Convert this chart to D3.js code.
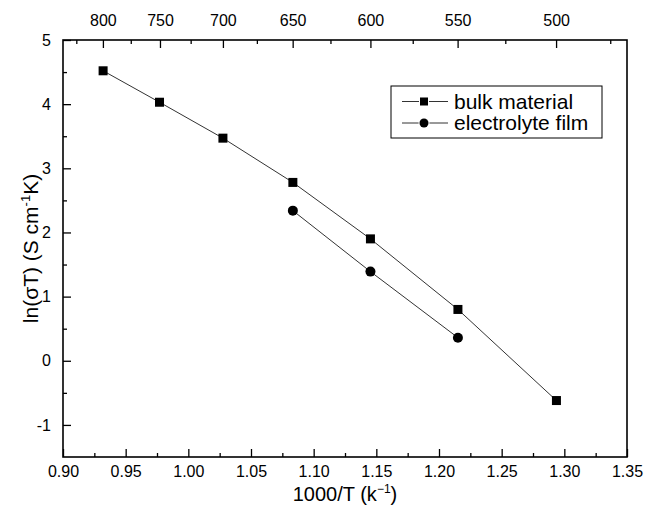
<!DOCTYPE html>
<html>
<head>
<meta charset="utf-8">
<script src="https://cdn.jsdelivr.net/npm/d3@7"></script>
<style>
  body { margin: 0; background: #fff; }
  text { font-family: "Liberation Sans", Arial, sans-serif; fill: #000; }
</style>
</head>
<body>
<div id="chart"></div>
<script>
// data: x = 1000/T, y = ln(sigma*T)
var bulkX = [0.932, 0.977, 1.0276, 1.0834, 1.1453, 1.2151, 1.2937];
var bulkY = [4.52, 4.03, 3.47, 2.78, 1.90, 0.80, -0.62];
var filmX = [1.0834, 1.1453, 1.2151];
var filmY = [2.34, 1.39, 0.36];
var xTicks = [0.90, 0.95, 1.00, 1.05, 1.10, 1.15, 1.20, 1.25, 1.30, 1.35];
var yTicks = [-1, 0, 1, 2, 3, 4, 5];
var tempTicks = [800, 750, 700, 650, 600, 550, 500];     // deg C, top axis
var tempMinor = [825, 775, 725, 675, 625, 575, 525, 475];

var width = 645, height = 511;
var margin = {top: 40, right: 18, bottom: 54, left: 63};

var svg = d3.select("#chart").append("svg")
  .attr("width", width)
  .attr("height", height);

var x = d3.scaleLinear().domain([0.9, 1.35]).range([margin.left, width - margin.right]);
var y = d3.scaleLinear().domain([-1.5, 5]).range([height - margin.bottom, margin.top]);

var bulk = bulkX.map(function(d, i) { return [d, bulkY[i]]; });
var film = filmX.map(function(d, i) { return [d, filmY[i]]; });

// minor ticks
var xMinor = d3.range(0.925, 1.35, 0.05);
var yMinor = d3.range(-0.5, 5, 1);

var yBot = y.range()[0], yTop = y.range()[1];
var tickFont = "16px";

svg.append("g")
  .attr("transform", "translate(0," + yBot + ")")
  .call(d3.axisBottom(x).tickValues(xTicks).tickFormat(d3.format(".2f")).tickSizeInner(-8).tickSizeOuter(0).tickPadding(9))
  .call(g => g.select(".domain").remove())
  .selectAll("text").style("font-size", tickFont);

svg.append("g")
  .attr("transform", "translate(0," + yBot + ")")
  .call(d3.axisBottom(x).tickValues(xMinor).tickFormat("").tickSizeInner(-4).tickSizeOuter(0))
  .call(g => g.select(".domain").remove());

svg.append("g")
  .attr("transform", "translate(" + margin.left + ",0)")
  .call(d3.axisLeft(y).tickValues(yTicks).tickFormat(d => String(d)).tickSizeInner(-8).tickSizeOuter(0).tickPadding(12))
  .call(g => g.select(".domain").remove())
  .selectAll("text").style("font-size", tickFont);

svg.append("g")
  .attr("transform", "translate(" + margin.left + ",0)")
  .call(d3.axisLeft(y).tickValues(yMinor).tickFormat("").tickSizeInner(-4).tickSizeOuter(0))
  .call(g => g.select(".domain").remove());

// top axis: temperature in deg C
var tx = function(t) { return 1000 / (t + 273.15); };
svg.append("g")
  .attr("transform", "translate(0," + yTop + ")")
  .call(d3.axisTop(x).tickValues(tempTicks.map(tx)).tickFormat(function(d, i) { return tempTicks[i]; }).tickSizeInner(-8).tickSizeOuter(0).tickPadding(14))
  .call(g => g.select(".domain").remove())
  .selectAll("text").style("font-size", tickFont);

svg.append("g")
  .attr("transform", "translate(0," + yTop + ")")
  .call(d3.axisTop(x).tickValues(tempMinor.map(tx)).tickFormat("").tickSizeInner(-4).tickSizeOuter(0))
  .call(g => g.select(".domain").remove());

svg.selectAll(".tick line").attr("stroke", "#000").attr("stroke-width", 1.3);

// frame
svg.append("rect")
  .attr("x", margin.left).attr("y", yTop)
  .attr("width", x.range()[1] - margin.left)
  .attr("height", yBot - yTop)
  .attr("fill", "none").attr("stroke", "#000").attr("stroke-width", 1.6);

var line = d3.line().x(d => x(d[0])).y(d => y(d[1]));

svg.append("path").datum(bulk).attr("d", line)
  .attr("fill", "none").attr("stroke", "#333").attr("stroke-width", 1);
svg.append("path").datum(film).attr("d", line)
  .attr("fill", "none").attr("stroke", "#333").attr("stroke-width", 1);

svg.selectAll(".sq").data(bulk).enter().append("rect")
  .attr("x", d => x(d[0]) - 4.5).attr("y", d => y(d[1]) - 4.5)
  .attr("width", 9).attr("height", 9).attr("fill", "#000");

svg.selectAll(".ci").data(film).enter().append("circle")
  .attr("cx", d => x(d[0])).attr("cy", d => y(d[1]))
  .attr("r", 5).attr("fill", "#000");

// legend
var lg = svg.append("g");
lg.append("rect").attr("x", 391).attr("y", 86).attr("width", 211).attr("height", 52)
  .attr("fill", "#fff").attr("stroke", "#000").attr("stroke-width", 1);
var rows = [{name: "bulk material", shape: "square", cy: 101.5}, {name: "electrolyte film", shape: "circle", cy: 123}];
rows.forEach(function(r) {
  lg.append("line").attr("x1", 402).attr("x2", 448).attr("y1", r.cy).attr("y2", r.cy)
    .attr("stroke", "#333").attr("stroke-width", 1);
  if (r.shape === "square") {
    lg.append("rect").attr("x", 419).attr("y", r.cy - 5).attr("width", 10).attr("height", 10).attr("fill", "#fff");
    lg.append("rect").attr("x", 420).attr("y", r.cy - 4).attr("width", 8).attr("height", 8).attr("fill", "#000");
  } else {
    lg.append("circle").attr("cx", 424).attr("cy", r.cy).attr("r", 5.5).attr("fill", "#fff");
    lg.append("circle").attr("cx", 424).attr("cy", r.cy).attr("r", 4.5).attr("fill", "#000");
  }
  lg.append("text").attr("x", 454).attr("y", r.cy + 7).style("font-size", "21px").text(r.name);
});

// axis titles
svg.append("text")
  .attr("x", (margin.left + x.range()[1]) / 2).attr("y", 501)
  .attr("text-anchor", "middle").style("font-size", "20px")
  .html("1000/T (k<tspan dy='-8' font-size='12px'>\u22121</tspan><tspan dy='8'>)</tspan>");

svg.append("text")
  .attr("transform", "translate(38," + ((yTop + yBot) / 2) + ") rotate(-90)")
  .attr("text-anchor", "middle").style("font-size", "21px")
  .html("ln(\u03C3T) (S cm<tspan dy='-8' font-size='13px'>-1</tspan><tspan dy='8'>K)</tspan>");
</script>
</body>
</html>
